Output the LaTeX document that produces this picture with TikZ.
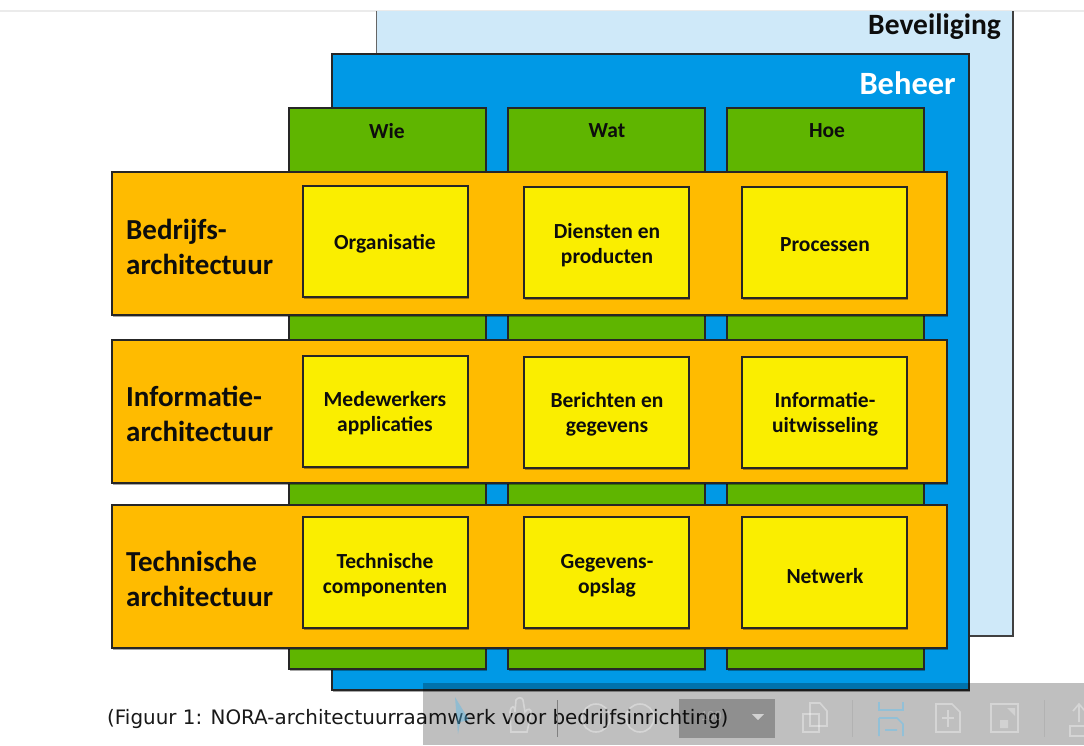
\documentclass[tikz,border=0pt]{standalone}
\usepackage{fontspec}
\setmainfont{Carlito}
\newfontfamily\captionfont{DejaVu Sans}
\usepackage{tikz}
\usetikzlibrary{shadows}

\definecolor{beveiligingblue}{HTML}{CFE9F9}
\definecolor{beheerblue}{HTML}{0099E6}
\definecolor{columngreen}{HTML}{5FB500}
\definecolor{roworange}{HTML}{FFBB00}
\definecolor{cellyellow}{HTML}{FAEE00}

\tikzset{
  box/.style={anchor=north west, xshift=-.2pt, yshift=-.2pt, inner sep=0pt, outer sep=0pt, draw=black!85, line width=1.5pt},
  softshadow/.style={drop shadow={shadow xshift=1.5pt, shadow yshift=-1.5pt, opacity=.35, fill=black}},
  beheerbox/.style={box, softshadow, fill=beheerblue, minimum width=637pt, minimum height=636pt},
  columnbox/.style={box, softshadow, fill=columngreen, minimum width=197pt, minimum height=561pt},
  rowbox/.style={box, softshadow, fill=roworange, minimum width=835pt, minimum height=143pt},
  cellbox/.style={box, softshadow, fill=cellyellow, minimum width=165pt, minimum height=111pt},
  celltext/.style={font=\bfseries\fontsize{21.5}{25}\selectfont, align=center, text=black!95},
  headtext/.style={font=\bfseries\fontsize{21.5}{24}\selectfont, text=black!95},
  rowtext/.style={anchor=west, inner sep=0pt, font=\bfseries\fontsize{29}{35}\selectfont, align=left, text=black!95},
  icon/.style={draw=white, opacity=.35, line width=1.6pt, fill=none}
}

\begin{document}
\begin{tikzpicture}[x=1pt, y=-1pt]
  \useasboundingbox (0,0) rectangle (1084,745);
  \fill[white] (0,0) rectangle (1084,745);
  \fill[black!8] (0,10) rectangle (1084,12);

  % back layers
  \fill[beveiligingblue, drop shadow={shadow xshift=1pt, shadow yshift=-1pt, opacity=.3, fill=black}] (376,11) rectangle (1013,636);
  \draw[black!60, line width=1pt] (376,11) -- (376,54);
  \draw[black!75, line width=1.5pt] (1013,11) -- (1013,636) -- (969,636);
  \node[anchor=east, inner sep=0pt, font=\bfseries\fontsize{29.5}{30}\selectfont, text=black!95] (beveiliging) at (1001,27) {Beveiliging};
  \node[beheerbox] (beheer) at (332,54) {};
  \node[anchor=east, inner sep=0pt, font=\bfseries\fontsize{32.5}{34}\selectfont, text=white] (beheerlabel) at (956,83) {Beheer};

  % columns
  \node[columnbox] (wie) at (289,108) {};
  \node[columnbox] (wat) at (508,108) {};
  \node[columnbox] (hoe) at (727,108) {};
  \node[headtext] (wielabel) at (387,131) {Wie};
  \node[headtext] (watlabel) at (607,131) {Wat};
  \node[headtext] (hoelabel) at (827,131) {Hoe};

  % rows
  \node[rowbox] (bedrijf) at (112,172) {};
  \node[rowbox] (informatie) at (112,340) {};
  \node[rowbox] (techniek) at (112,505) {};
  \node[rowtext] (bedrijflabel) at (126,247) {Bedrijfs-\\architectuur};
  \node[rowtext] (informatielabel) at (126,414) {Informatie-\\architectuur};
  \node[rowtext] (technieklabel) at (126,579) {Technische\\architectuur};

  % cells
  \node[cellbox] (organisatie) at (303,186) {};
  \node[cellbox] (diensten) at (524,187) {};
  \node[cellbox] (processen) at (742,187) {};
  \node[cellbox] (medewerkers) at (303,356) {};
  \node[cellbox] (berichten) at (524,357) {};
  \node[cellbox] (uitwisseling) at (742,357) {};
  \node[cellbox] (componenten) at (303,517) {};
  \node[cellbox] (opslag) at (524,517) {};
  \node[cellbox] (netwerk) at (742,517) {};

  \node[celltext] at (385,244) {Organisatie};
  \node[celltext] at (607,245) {Diensten en\\producten};
  \node[celltext] at (825,245) {Processen};
  \node[celltext] at (385,413) {Medewerkers\\applicaties};
  \node[celltext] at (607,414) {Berichten en\\gegevens};
  \node[celltext] at (825,414) {Informatie-\\uitwisseling};
  \node[celltext] at (385,575) {Technische\\componenten};
  \node[celltext] at (607,576) {Gegevens-\\opslag};
  \node[celltext] at (825,576) {Netwerk};

  % caption under the viewer toolbar
  \node[anchor=west, font=\captionfont\fontsize{19.9}{22}\selectfont, text=black!90, inner sep=0pt] (caption) at (107,719) {(Figuur 1: NORA-architectuurraamwerk voor bedrijfsinrichting)};

  % viewer toolbar
  \fill[black, opacity=.25] (423,683) rectangle (1084,745);
  \fill[black, opacity=.25] (679,699) rectangle (775,738);
  \fill[white, opacity=.6] (752,714) -- (764,714) -- (758,720) -- cycle;
  \node[text=white, opacity=.25, font=\fontsize{14}{16}\selectfont] (zoomlevel) at (711,716) {100};
  \fill[beheerblue!70, opacity=.4] (455,697) -- (469,720) -- (460,722) -- (458,734) -- cycle;
  \draw[icon] (511,732) -- (510,712) .. controls (511,705) and (515,705) .. (515,712) -- (516,700) .. controls (518,697) and (522,697) .. (523,700) -- (525,712) .. controls (527,708) and (532,708) .. (531,714) -- (527,732) -- cycle;
  \draw[black!50, line width=.6pt] (557,700) -- (557,737);
  \draw[icon] (596,718) circle (14);
  \draw[icon] (640,718) circle (14);
  \draw[icon] (803,714) rectangle (819,732);
  \draw[icon] (810,703) -- (820,703) -- (827,711) -- (827,726) -- (810,726) -- cycle;
  \draw[black!30, line width=.6pt] (852,700) -- (852,737);
  \draw[beheerblue!60, opacity=.5, line width=1.6pt] (879,702) -- (879,710) -- (903,710) -- (903,702) (879,718) -- (897,718) -- (903,724) -- (903,736) (879,718) -- (879,736) (885,730) -- (897,730);
  \draw[icon] (936,704) -- (952,704) -- (960,712) -- (960,732) -- (936,732) -- cycle;
  \draw[icon] (948,710) -- (948,727) (942,718) -- (954,718);
  \draw[icon] (991,704) rectangle (1018,732);
  \fill[white, opacity=.3] (1000,720) rectangle (1008,728) (1007,708) -- (1015,708) -- (1015,716) -- cycle;
  \draw[black!30, line width=.6pt] (1044,700) -- (1044,737);
  \draw[icon] (1070,726) rectangle (1090,736);
  \draw[icon] (1079,722) -- (1079,704) (1073,711) -- (1079,704) -- (1085,711);
\end{tikzpicture}
\end{document}
